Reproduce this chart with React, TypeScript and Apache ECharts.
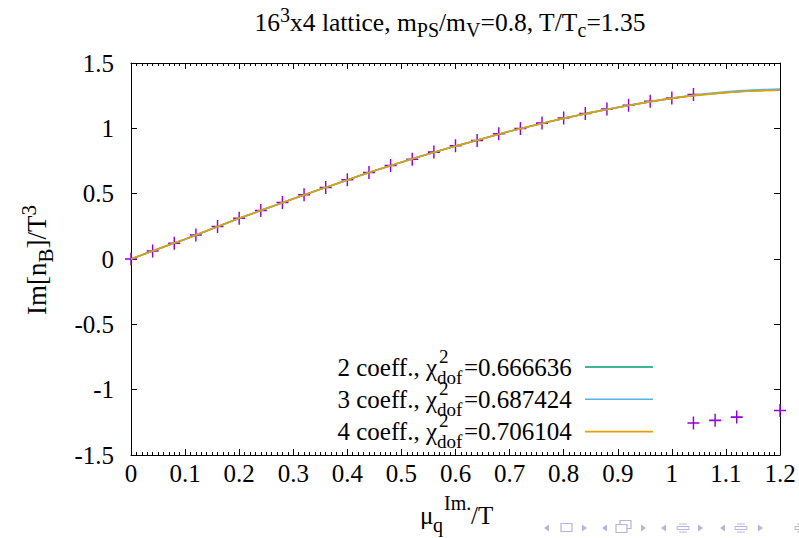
import React, { useEffect, useRef } from "react";
import * as echarts from "echarts";

// ---- data ----
const pointsMu = [
  0, 0.04, 0.08, 0.12, 0.16, 0.2, 0.24, 0.28, 0.32, 0.36, 0.4, 0.44, 0.48, 0.52,
  0.56, 0.6, 0.64, 0.68, 0.72, 0.76, 0.8, 0.84, 0.88, 0.92, 0.96, 1.0, 1.04,
  1.04, 1.08, 1.12, 1.2,
];
const pointsN = [
  0, 0.061, 0.12, 0.184, 0.248, 0.312, 0.371, 0.432, 0.491, 0.547, 0.606, 0.662,
  0.716, 0.764, 0.818, 0.867, 0.907, 0.959, 0.999, 1.04, 1.079, 1.114, 1.148,
  1.176, 1.207, 1.232, 1.258,
  -1.255, -1.235, -1.21, -1.16,
];

const curveMu = [
  0, 0.05, 0.1, 0.15, 0.2, 0.25, 0.3, 0.35, 0.4, 0.45, 0.5, 0.55, 0.6, 0.65,
  0.7, 0.75, 0.8, 0.85, 0.9, 0.95, 1.0, 1.05, 1.1, 1.15, 1.2,
];
const fit2 = [
  0, 0.077, 0.152, 0.232, 0.311, 0.386, 0.461, 0.533, 0.605, 0.675, 0.740,
  0.804, 0.864, 0.920, 0.977, 1.028, 1.076, 1.120, 1.160, 1.197, 1.229, 1.255,
  1.274, 1.288, 1.295,
];
const fit3 = [
  0, 0.077, 0.152, 0.232, 0.311, 0.386, 0.461, 0.533, 0.605, 0.675, 0.740,
  0.804, 0.864, 0.920, 0.977, 1.028, 1.076, 1.121, 1.161, 1.198, 1.231, 1.258,
  1.279, 1.293, 1.301,
];
const fit4 = [
  0, 0.077, 0.152, 0.232, 0.311, 0.386, 0.461, 0.533, 0.605, 0.675, 0.740,
  0.804, 0.864, 0.920, 0.977, 1.028, 1.076, 1.120, 1.160, 1.197, 1.229, 1.254,
  1.273, 1.286, 1.292,
];

const fitNames = ["2 coeff., χ", "3 coeff., χ", "4 coeff., χ"];
const fitChi = ["=0.666636", "=0.687424", "=0.706104"];
const fitColors = ["#009e73", "#56b4e9", "#e69f00"];
const pointColor = "#9400d3";

const xTickMin = 0;
const xTickMax = 1.2;
const yTickMin = -1.5;
const yTickMax = 1.5;

const FONT = "Liberation Serif";

export default function App() {
  const ref = useRef<HTMLDivElement>(null);

  useEffect(() => {
    if (!ref.current) return;
    const chart = echarts.init(ref.current, undefined, { renderer: "svg" });

    const axisCommon = {
      axisLine: { show: true, onZero: false, lineStyle: { color: "#000", width: 1 } },
      axisTick: { show: true, inside: true, length: 6, lineStyle: { color: "#000", width: 1 } },
      splitLine: { show: false },
    };

    const fits = [fit2, fit3, fit4];
    const lineSeries = fits.map((f, i) => ({
      type: "line",
      name: fitNames[i],
      data: curveMu.map((m, j) => [m, f[j]]),
      showSymbol: false,
      smooth: 0.2,
      lineStyle: { color: fitColors[i], width: 1.6 },
      itemStyle: { color: fitColors[i] },
      z: 3 + i,
    }));

    const txt = (x: number, y: number, text: string, size: number, align: string, lh?: number) => ({
      type: "text",
      x,
      y,
      style: {
        text,
        fill: "#000",
        fontSize: size,
        fontFamily: FONT,
        lineHeight: lh ?? size,
        align,
        textAlign: align,
        verticalAlign: "middle",
        textVerticalAlign: "middle",
      },
    });

    const legendGraphics: any[] = [];
    fitNames.forEach((n, i) => {
      const yc = 367 + 32.3 * i;
      legendGraphics.push(
        txt(437, yc, n, 25, "right", 22),
        txt(439, yc - 11, "2", 19, "left", 12),
        txt(437, yc + 10, "dof", 19, "left", 12),
        txt(464, yc, fitChi[i], 25, "left", 22),
        {
          type: "line",
          shape: { x1: 585, y1: yc, x2: 653, y2: yc },
          style: { stroke: fitColors[i], lineWidth: 1.6 },
        }
      );
    });

    const navColor = "#b4b4e0";
    const tri = (x: number, dir: number) => ({
      type: "polygon",
      shape: {
        points:
          dir < 0
            ? [[x - 3, 528], [x + 2, 524.5], [x + 2, 531.5]]
            : [[x - 2, 524.5], [x + 3, 528], [x - 2, 531.5]],
      },
      style: { fill: navColor },
    });
    const bars = (x: number) => [
      { type: "line", shape: { x1: x - 4, y1: 524, x2: x + 4, y2: 524 }, style: { stroke: navColor, lineWidth: 1 } },
      { type: "rect", shape: { x: x - 6, y: 526.5, width: 12, height: 3 }, style: { fill: "none", stroke: navColor, lineWidth: 1 } },
      { type: "line", shape: { x1: x - 4, y1: 532, x2: x + 4, y2: 532 }, style: { stroke: navColor, lineWidth: 1 } },
    ];
    const navGraphics: any[] = [
      tri(547, -1),
      { type: "rect", shape: { x: 561, y: 523.5, width: 11, height: 8 }, style: { fill: "none", stroke: navColor, lineWidth: 1.2 } },
      tri(584, 1),
      tri(605, -1),
      { type: "rect", shape: { x: 620, y: 520.5, width: 11, height: 8 }, style: { fill: "#fff", stroke: navColor, lineWidth: 1.2 } },
      { type: "rect", shape: { x: 616, y: 524.5, width: 11, height: 8 }, style: { fill: "#fff", stroke: navColor, lineWidth: 1.2 } },
      tri(643, 1),
      tri(664, -1),
      ...bars(683),
      tri(700, 1),
      tri(723, -1),
      ...bars(741),
      tri(760, 1),
      ...bars(801),
    ];

    const richSmall = (size: number) => ({
      sup: { fontSize: size, fontFamily: FONT, lineHeight: size, verticalAlign: "top", fill: "#000" },
      sub: { fontSize: size, fontFamily: FONT, lineHeight: size, verticalAlign: "bottom", fill: "#000" },
    });

    const option: any = {
      animation: false,
      grid: { left: 131, top: 63, width: 649, height: 392, show: false },
      xAxis: [
        {
          type: "value",
          min: xTickMin,
          max: xTickMax,
          interval: 0.1,
          position: "bottom",
          ...axisCommon,
          minorTick: { show: true, splitNumber: 10, length: 3, lineStyle: { color: "#000", width: 1 } },
          axisLabel: { show: true, fontSize: 25, fontFamily: FONT, color: "#000", margin: 6 },
        },
        {
          type: "value",
          min: xTickMin,
          max: xTickMax,
          interval: 0.1,
          position: "top",
          ...axisCommon,
          minorTick: { show: true, splitNumber: 10, length: 3, lineStyle: { color: "#000", width: 1 } },
          axisLabel: { show: false },
        },
      ],
      yAxis: [
        {
          type: "value",
          min: yTickMin,
          max: yTickMax,
          interval: 0.5,
          position: "left",
          ...axisCommon,
          axisLabel: { show: true, fontSize: 25, fontFamily: FONT, color: "#000", margin: 17 },
        },
        {
          type: "value",
          min: yTickMin,
          max: yTickMax,
          interval: 0.5,
          position: "right",
          ...axisCommon,
          axisLabel: { show: false },
        },
      ],
      series: [
        {
          type: "scatter",
          data: pointsMu.map((m, i) => [m, pointsN[i]]),
          symbol: "path://M0,4.4L10,4.4L10,5.6L0,5.6Z M4.4,0L5.6,0L5.6,10L4.4,10Z",
          symbolSize: [12, 13],
          itemStyle: { color: pointColor, opacity: 1 },
          z: 2,
        },
        ...lineSeries,
      ],
      graphic: [
        {
          type: "text",
          x: 450,
          y: 22,
          style: {
            text: "16{sup|3}x4 lattice, m{sub|PS}/m{sub|V}=0.8, T/T{sub|c}=1.35",
            fill: "#000",
            fontSize: 25.5,
            fontFamily: FONT,
            lineHeight: 35,
            align: "center",
            textAlign: "center",
            verticalAlign: "middle",
            textVerticalAlign: "middle",
            rich: richSmall(20),
          },
        },
        {
          type: "text",
          x: 37,
          y: 260,
          rotation: Math.PI / 2,
          style: {
            text: "Im[n{sub|B}]/T{sup|3}",
            fill: "#000",
            fontSize: 27,
            fontFamily: FONT,
            lineHeight: 38,
            align: "center",
            textAlign: "center",
            verticalAlign: "middle",
            textVerticalAlign: "middle",
            rich: richSmall(21),
          },
        },
        txt(420, 515, "μ", 25, "left", 22),
        txt(433, 525, "q", 20, "left", 14),
        txt(444, 503, "Im.", 20, "left", 14),
        txt(471, 515, "/T", 25, "left", 22),
        ...legendGraphics,
        ...navGraphics,
      ],
    };

    chart.setOption(option);
    return () => chart.dispose();
  }, []);

  return (
    <div
      ref={ref}
      style={{ position: "fixed", left: 0, top: 0, width: 799, height: 538, background: "#fff" }}
    />
  );
}
